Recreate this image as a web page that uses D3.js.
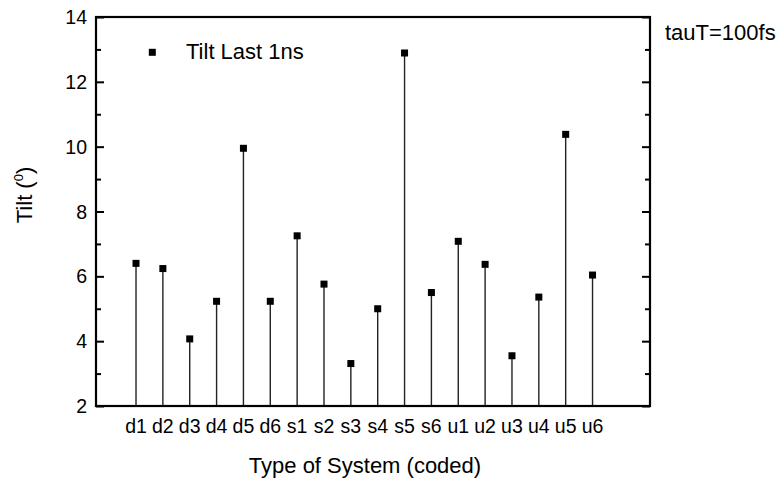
<!DOCTYPE html>
<html>
<head>
<meta charset="utf-8">
<script src="https://cdn.jsdelivr.net/npm/d3@7"></script>
<style>
  body { margin: 0; background: #fff; }
  text { font-family: "Liberation Sans", Arial, sans-serif; fill: #000; }
</style>
</head>
<body>
<div id="d3-container"></div>
<script>
/**
 * DATA
 * */
const systems = ["d1", "d2", "d3", "d4", "d5", "d6", "s1", "s2", "s3", "s4", "s5", "s6",
                 "u1", "u2", "u3", "u4", "u5", "u6"];
const tiltLast1ns = [6.40, 6.24, 4.07, 5.23, 9.95, 5.23, 7.25, 5.76, 3.31, 5.00, 12.89, 5.50,
                     7.08, 6.37, 3.55, 5.36, 10.38, 6.04];
const yTicks = [2, 4, 6, 8, 10, 12, 14];
const yMinorTicks = [3, 5, 7, 9, 11, 13];
const seriesName = "Tilt Last 1ns";
const noteText = "tauT=100fs";

/**
 * CONSTANTS AND GLOBALS
 * */
const width = 783,
  height = 485,
  margin = { top: 17, bottom: 79, left: 96, right: 133 };

const svg = d3.select("#d3-container")
  .append("svg")
  .attr("width", width)
  .attr("height", height);

// index positions; the frame leaves ~1.5 slots on the left, ~2.1 on the right
const xScale = d3.scaleLinear()
  .domain([-1.49, 19.14])
  .range([margin.left, width - margin.right]);

const yScale = d3.scaleLinear()
  .domain([2, 14])
  .range([height - margin.bottom, margin.top]);

const x0 = margin.left, x1 = width - margin.right;
const y0 = height - margin.bottom, y1 = margin.top;

// stems (drop lines down to the x axis)
svg.append("g")
  .selectAll("line")
  .data(tiltLast1ns)
  .join("line")
  .attr("x1", (d, i) => xScale(i))
  .attr("x2", (d, i) => xScale(i))
  .attr("y1", yScale(2))
  .attr("y2", d => yScale(d))
  .attr("stroke", "#222")
  .attr("stroke-width", 1.4);

// square markers
svg.append("g")
  .selectAll("rect")
  .data(tiltLast1ns)
  .join("rect")
  .attr("x", (d, i) => xScale(i) - 3.5)
  .attr("y", d => yScale(d) - 3.5)
  .attr("width", 7)
  .attr("height", 7)
  .attr("fill", "#000");

// left axis, ticks point inward
const leftAxis = svg.append("g")
  .attr("transform", `translate(${x0},0)`)
  .call(d3.axisRight(yScale).tickValues(yTicks).tickSize(8).tickFormat(""));
leftAxis.select(".domain").remove();
leftAxis.selectAll("line").attr("stroke", "#000").attr("stroke-width", 2);

svg.append("g")
  .attr("transform", `translate(${x0},0)`)
  .call(d3.axisRight(yScale).tickValues(yMinorTicks).tickSize(5).tickFormat(""))
  .call(g => g.select(".domain").remove())
  .selectAll("line").attr("stroke", "#000").attr("stroke-width", 2);

// right axis mirror
svg.append("g")
  .attr("transform", `translate(${x1},0)`)
  .call(d3.axisLeft(yScale).tickValues(yTicks).tickSize(8).tickFormat(""))
  .call(g => g.select(".domain").remove())
  .selectAll("line").attr("stroke", "#000").attr("stroke-width", 2);

svg.append("g")
  .attr("transform", `translate(${x1},0)`)
  .call(d3.axisLeft(yScale).tickValues(yMinorTicks).tickSize(5).tickFormat(""))
  .call(g => g.select(".domain").remove())
  .selectAll("line").attr("stroke", "#000").attr("stroke-width", 2);

// y tick labels
svg.append("g")
  .selectAll("text")
  .data(yTicks)
  .join("text")
  .attr("x", x0 - 9)
  .attr("y", d => yScale(d))
  .attr("dy", "0.36em")
  .attr("text-anchor", "end")
  .style("font-size", "19.5px")
  .text(d => d);

// x tick labels
svg.append("g")
  .selectAll("text")
  .data(systems)
  .join("text")
  .attr("x", (d, i) => xScale(i))
  .attr("y", 433)
  .attr("text-anchor", "middle")
  .style("font-size", "19.5px")
  .text(d => d);

// frame
svg.append("rect")
  .attr("x", x0)
  .attr("y", y1)
  .attr("width", x1 - x0)
  .attr("height", y0 - y1)
  .attr("fill", "none")
  .attr("stroke", "#000")
  .attr("stroke-width", 2.2);

// axis titles
svg.append("text")
  .attr("x", 365)
  .attr("y", 473)
  .attr("text-anchor", "middle")
  .style("font-size", "22px")
  .text("Type of System (coded)");

const yTitle = svg.append("text")
  .attr("transform", "translate(32,195) rotate(-90)")
  .attr("text-anchor", "middle")
  .style("font-size", "22px");
yTitle.append("tspan").text("Tilt (");
yTitle.append("tspan").attr("dy", -9).style("font-size", "13px").text("0");
yTitle.append("tspan").attr("dy", 9).text(")");

// legend
svg.append("rect")
  .attr("x", 152.3 - 3.5)
  .attr("y", 52.3 - 3.5)
  .attr("width", 7)
  .attr("height", 7)
  .attr("fill", "#000");

svg.append("text")
  .attr("x", 186)
  .attr("y", 58.5)
  .style("font-size", "22px")
  .text(seriesName);

// note at top right
svg.append("text")
  .attr("x", 665)
  .attr("y", 39.5)
  .style("font-size", "22px")
  .text(noteText);
</script>
</body>
</html>
